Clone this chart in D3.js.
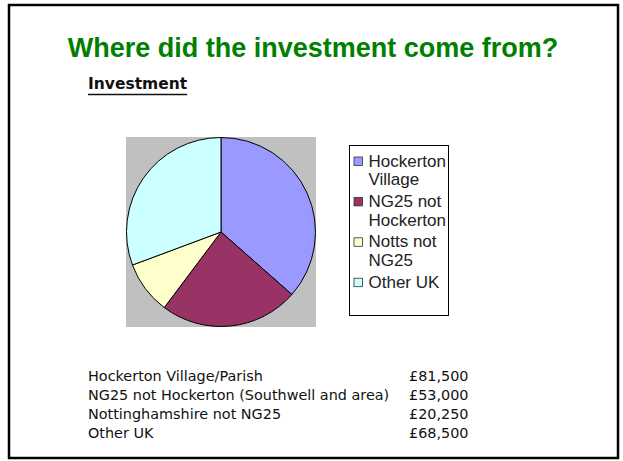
<!DOCTYPE html>
<html>
<head>
<meta charset="utf-8">
<script src="https://cdn.jsdelivr.net/npm/d3@7"></script>
<style>
  html, body { margin: 0; padding: 0; background: white; }
</style>
</head>
<body>
<div id="chart"></div>
<script>
const categories = ['Hockerton Village', 'NG25 not Hockerton', 'Notts not NG25', 'Other UK'];
const legendLines = [['Hockerton', 'Village'], ['NG25 not', 'Hockerton'], ['Notts not', 'NG25'], ['Other UK']];
const values = [81500, 53000, 20250, 68500];
const tableLabels = [
  'Hockerton Village/Parish',
  'NG25 not Hockerton (Southwell and area)',
  'Nottinghamshire not NG25',
  'Other UK',
];
const colors = ['#9999FF', '#993366', '#FFFFCC', '#CCFFFF'];

const width = 623;
const height = 461;

const svg = d3
  .select('#chart')
  .append('svg')
  .attr('width', width)
  .attr('height', height);

// slide frame
svg
  .append('rect')
  .attr('x', 9)
  .attr('y', 5)
  .attr('width', 609)
  .attr('height', 453)
  .attr('fill', 'white')
  .attr('stroke', 'black')
  .attr('stroke-width', 2.5);

svg
  .append('text')
  .attr('x', 313)
  .attr('y', 57)
  .attr('text-anchor', 'middle')
  .attr('font-family', 'Liberation Sans, Arial, sans-serif')
  .attr('font-weight', 'bold')
  .attr('font-size', 27)
  .attr('fill', '#008000')
  .text('Where did the investment come from?');

const sub = svg
  .append('text')
  .attr('x', 88)
  .attr('y', 89)
  .attr('font-family', 'DejaVu Sans, sans-serif')
  .attr('font-weight', 'bold')
  .attr('font-size', 15.5)
  .attr('fill', '#111')
  .text('Investment');
const subW = sub.node().getComputedTextLength();
svg
  .append('line')
  .attr('x1', 88)
  .attr('x2', 88 + subW)
  .attr('y1', 94.5)
  .attr('y2', 94.5)
  .attr('stroke', '#111')
  .attr('stroke-width', 1.5);

// pie plot area
const plot = { x: 126, y: 137, size: 190 };
svg
  .append('rect')
  .attr('x', plot.x)
  .attr('y', plot.y)
  .attr('width', plot.size)
  .attr('height', plot.size)
  .attr('fill', '#C0C0C0');

const radius = plot.size / 2;
const pie = d3.pie().sort(null).value((d) => d);
const arc = d3.arc().innerRadius(0).outerRadius(radius - 0.5);

svg
  .append('g')
  .attr('transform', `translate(${plot.x + radius},${plot.y + radius})`)
  .selectAll('path')
  .data(pie(values))
  .join('path')
  .attr('d', arc)
  .attr('fill', (d, i) => colors[i])
  .attr('stroke', 'black')
  .attr('stroke-width', 1);

// legend
const legend = svg.append('g').attr('transform', 'translate(349.5,145.5)');
legend
  .append('rect')
  .attr('width', 99)
  .attr('height', 170)
  .attr('fill', 'white')
  .attr('stroke', 'black')
  .attr('stroke-width', 1);

let lineY = 21;
legendLines.forEach((lines, i) => {
  legend
    .append('rect')
    .attr('x', 4.5)
    .attr('y', lineY - 9.5)
    .attr('width', 8.5)
    .attr('height', 8.5)
    .attr('fill', colors[i])
    .attr('stroke', '#333')
    .attr('stroke-width', 0.8);
  lines.forEach((line) => {
    legend
      .append('text')
      .attr('x', 19)
      .attr('y', lineY)
      .attr('font-family', 'Liberation Sans, Arial, sans-serif')
      .attr('font-size', 17)
      .attr('fill', '#222')
      .text(line);
    lineY += 18.7;
  });
  lineY += 3;
});

// value table
const rowY = d3.scaleBand().domain(categories).range([367, 443]);
const table = svg
  .append('g')
  .attr('font-family', 'DejaVu Sans, sans-serif')
  .attr('font-size', 14.4)
  .attr('fill', '#111');

table
  .selectAll('text.label')
  .data(categories)
  .join('text')
  .attr('class', 'label')
  .attr('x', 88)
  .attr('y', (d) => rowY(d) + 13.5)
  .text((d, i) => tableLabels[i]);

table
  .selectAll('text.value')
  .data(values)
  .join('text')
  .attr('class', 'value')
  .attr('x', 409)
  .attr('y', (d, i) => rowY(categories[i]) + 13.5)
  .text((d) => '£' + d3.format(',')(d));
</script>
</body>
</html>
